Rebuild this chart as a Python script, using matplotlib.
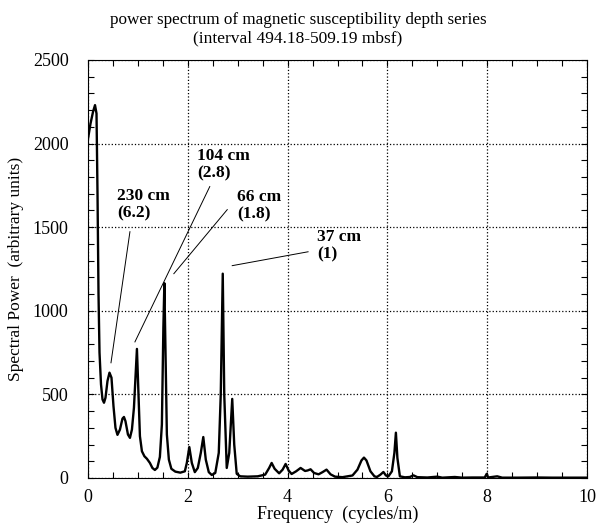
import matplotlib
matplotlib.use('Agg')
import matplotlib.pyplot as plt
from matplotlib.ticker import MultipleLocator

# spectrum (frequency in cycles/m, power arbitrary)
freq = [0.00, 0.05, 0.10, 0.14, 0.17, 0.19, 0.21, 0.23, 0.26, 0.29,
        0.32, 0.35, 0.39, 0.43, 0.47, 0.51, 0.55, 0.59, 0.64, 0.69,
        0.72, 0.75, 0.80, 0.84, 0.88, 0.92, 0.95, 0.98, 1.01, 1.04,
        1.08, 1.13, 1.18, 1.24, 1.29, 1.34, 1.39, 1.44, 1.48, 1.51,
        1.53, 1.55, 1.58, 1.62, 1.67, 1.75, 1.85, 1.94, 1.98, 2.03,
        2.08, 2.14, 2.20, 2.26, 2.31, 2.36, 2.42, 2.48, 2.55, 2.62,
        2.66, 2.70, 2.73, 2.78, 2.83, 2.89, 2.93, 2.98, 3.05, 3.20,
        3.40, 3.55, 3.63, 3.68, 3.74, 3.83, 3.90, 3.96, 4.02, 4.08,
        4.17, 4.26, 4.35, 4.40, 4.46, 4.53, 4.62, 4.70, 4.78, 4.86,
        4.95, 5.10, 5.30, 5.40, 5.48, 5.53, 5.58, 5.66, 5.74, 5.79,
        5.86, 5.92, 5.97, 6.02, 6.09, 6.14, 6.17, 6.20, 6.25, 6.35,
        6.45, 6.52, 6.60, 6.80, 7.00, 7.10, 7.35, 7.50, 7.70, 7.95,
        7.99, 8.02, 8.20, 8.30, 8.60, 9.00, 9.30, 9.70, 10.0]
power = [2030, 2120, 2190, 2230, 2180, 1700, 1100, 750, 560, 470,
         450, 480, 580, 630, 600, 430, 300, 258, 290, 355,
         365, 340, 260, 240, 290, 420, 600, 772, 520, 250,
         160, 130, 115, 90, 60, 48, 62, 126, 320, 900,
         1165, 800, 260, 110, 55, 38, 32, 40, 90, 185,
         90, 35, 60, 150, 245, 110, 35, 18, 30, 150,
         500, 1222, 500, 60, 150, 473, 200, 25, 10, 8,
         10, 20, 60, 90, 55, 28, 50, 84, 45, 24,
         40, 60, 42, 45, 52, 30, 22, 35, 50, 22,
         8, 5, 15, 50, 105, 122, 105, 40, 10, 6,
         20, 36, 15, 10, 40, 150, 271, 120, 10, 4,
         6, 16, 5, 3, 8, 2, 6, 2, 3, 3,
         25, 3, 10, 2, 2, 3, 2, 2, 2]

# annotations: label, text position, line start, line end
labels = ['230 cm\n(6.2)', '104 cm\n(2.8)', '66 cm\n(1.8)', '37 cm\n(1)']
text_xy = [(0.58, 1737), (2.18, 1976), (2.99, 1730), (4.59, 1490)]
line_from = [(0.84, 1473), (2.44, 1743), (2.79, 1605), (4.41, 1353)]
line_to = [(0.46, 689), (0.94, 814), (1.72, 1222), (2.89, 1270)]

plt.rcParams['font.family'] = ['Liberation Serif', 'DejaVu Serif']

fig = plt.figure(figsize=(5.96, 5.24), dpi=100)
ax = fig.add_axes([0.1477, 0.0878, 0.8372, 0.7977])

ax.plot(freq, power, color='black', lw=1.7)

for lab, txy, p0, p1 in zip(labels, text_xy, line_from, line_to):
    ax.text(txy[0], txy[1], lab, fontsize=12.5, fontweight='bold',
            ha='left', va='top', linespacing=1.15)
    ax.plot([p0[0], p1[0]], [p0[1], p1[1]], color='black', lw=0.7)

ax.set_xlim(0, 10)
ax.set_ylim(0, 2500)
ax.xaxis.set_major_locator(MultipleLocator(2))
ax.xaxis.set_minor_locator(MultipleLocator(0.5))
ax.yaxis.set_major_locator(MultipleLocator(500))
ax.yaxis.set_minor_locator(MultipleLocator(100))
ax.tick_params(which='both', direction='in', top=True, right=True,
               length=4, width=0.8, labelsize=13)
ax.tick_params(axis='y', pad=14)
ax.tick_params(axis='x', pad=8)
ax.grid(True, which='major', linestyle=':', color='black', lw=0.9)

ax.set_xlabel('Frequency  (cycles/m)', fontsize=13)
ax.set_ylabel('Spectral Power  (arbitrary units)', fontsize=12.5)
ax.xaxis.set_label_coords(0.5, -0.067)
ax.yaxis.set_label_coords(-0.128, 0.5)

fig.text(0.5, 1 - 20 / 524, 'power spectrum of magnetic susceptibility depth series',
         ha='center', va='center', fontsize=12.3)
fig.text(0.5, 1 - 38 / 524, '(interval 494.18-509.19 mbsf)',
         ha='center', va='center', fontsize=12.5)

fig.savefig('out.png', dpi=100)
